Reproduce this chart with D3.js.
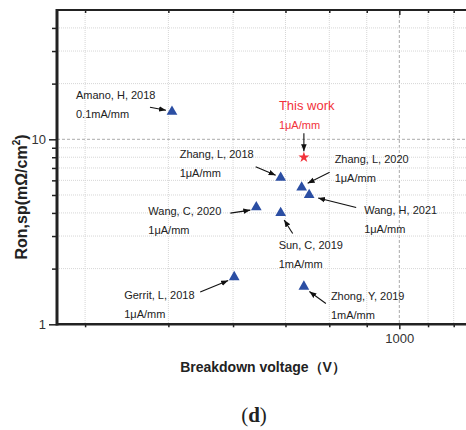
<!DOCTYPE html>
<html>
<head>
<meta charset="utf-8">
<script src="https://cdn.jsdelivr.net/npm/d3@7"></script>
<style>
  body { margin: 0; background: #fff; }
  text { font-family: "Liberation Sans", Arial, sans-serif; }
</style>
</head>
<body>
<svg id="chart"></svg>
<script>
// reference devices: breakdown voltage (V) vs Ron,sp (mOhm.cm2)
const refNames = ['Amano, H, 2018', 'Zhang, L, 2018', 'Zhang, L, 2020', 'Wang, H, 2021',
    'Wang, C, 2020', 'Sun, C, 2019', 'Gerrit, L, 2018', 'Zhong, Y, 2019'];
const refLeakage = ['0.1mA/mm', '1\u03bcA/mm', '1\u03bcA/mm', '1\u03bcA/mm',
    '1\u03bcA/mm', '1mA/mm', '1\u03bcA/mm', '1mA/mm'];
const refBV = [505, 690, 735, 752, 642, 690, 602, 740];
const refRon = [14.1, 6.2, 5.5, 5.0, 4.3, 4.0, 1.8, 1.6];

const workName = ['This work'];
const workLeakage = ['1\u03bcA/mm'];
const workBV = [740];
const workRon = [8.0];

const xTicks = [400, 500, 600, 700, 800, 900, 1000, 1100, 1200];
const xMajor = [1000];
const yMajor = [1, 10];
const yMinor = [2, 3, 4, 5, 6, 7, 8, 9, 20, 30, 40];

// label / arrow placement, px relative to the marker: [labelX, labelY, tailX, tailY, headX, headY]
const refCallouts = [
    [-96, -13, -22, -4.5, -6, -1.5],
    [-101, -20, -25, -11, -5, -2.5],
    [33, -24, 28, -15, 6, -4],
    [55, 19, 47, 12.5, 9, 3],
    [-108, 8, -26, 6, -6, 3],
    [-2, 36, 12, 20.5, 3.5, 7],
    [-110, 22, -34, 15, -6, 3.5],
    [27, 13, 22, 17, 5.5, 5]
];
const workCallout = [-25, -47, 0, -24, 0, -6];

const width = 466, height = 430;
const margin = {top: 10, right: 0, bottom: 106, left: 57};
const svg = d3.select('#chart').attr('width', width).attr('height', height);

const x = d3.scalePow().exponent(-0.25)
    .domain([372, 1252])
    .range([margin.left, width - margin.right]);
const y = d3.scaleLog()
    .domain([1, 50])
    .range([height - margin.bottom + 0.3, margin.top]);

const x0 = margin.left, x1 = width - margin.right;
const y0 = y.range()[0], y1 = margin.top;

// grid
const grid = svg.append('g');
grid.selectAll('.gx')
    .data(xTicks)
    .join('line')
    .attr('x1', d => x(d)).attr('x2', d => x(d))
    .attr('y1', y1).attr('y2', y0)
    .attr('stroke', d => xMajor.includes(d) ? '#aaa' : '#d6d6d6')
    .attr('stroke-dasharray', d => xMajor.includes(d) ? '3,2' : '1,1');
grid.selectAll('.gy')
    .data(yMinor.concat(yMajor.slice(1)))
    .join('line')
    .attr('x1', x0).attr('x2', x1)
    .attr('y1', d => y(d)).attr('y2', d => y(d))
    .attr('stroke', d => yMajor.includes(d) ? '#aaa' : '#d6d6d6')
    .attr('stroke-dasharray', d => yMajor.includes(d) ? '3,2' : '1,1');

// axes
const leftMinor = svg.append('g')
    .attr('transform', `translate(${x0},0)`)
    .call(d3.axisLeft(y).tickValues(yMinor).tickSize(5).tickFormat(''));
const leftMajor = svg.append('g')
    .attr('transform', `translate(${x0},0)`)
    .call(d3.axisLeft(y).tickValues(yMajor).tickSize(8).tickPadding(3).tickFormat(d3.format('d')));
const bottomAxis = svg.append('g')
    .attr('transform', `translate(0,${y0})`)
    .call(d3.axisBottom(x).tickValues(xTicks).tickSize(3).tickPadding(6)
        .tickFormat(d => xMajor.includes(d) ? d : ''));
bottomAxis.selectAll('.tick line').filter(d => xMajor.includes(d)).attr('y2', 5);
const topAxis = svg.append('g')
    .attr('transform', `translate(0,${y1})`)
    .call(d3.axisBottom(x).tickValues(xTicks).tickSize(3).tickFormat(''));
topAxis.selectAll('.tick line').filter(d => xMajor.includes(d)).attr('y2', 5);

[leftMinor, leftMajor, bottomAxis, topAxis].forEach(g => {
    g.select('.domain').remove();
    g.selectAll('.tick line').attr('stroke', '#222').attr('stroke-width', 1.5);
    g.selectAll('.tick text').attr('fill', '#333').style('font-size', '13px');
});

svg.append('line').attr('x1', x0).attr('x2', x1).attr('y1', y1).attr('y2', y1)
    .attr('stroke', '#222').attr('stroke-width', 2);
svg.append('line').attr('x1', x0).attr('x2', x1).attr('y1', y0).attr('y2', y0)
    .attr('stroke', '#222').attr('stroke-width', 2.5);
svg.append('line').attr('x1', x0).attr('x2', x0).attr('y1', y1 - 1).attr('y2', y0 + 1.2)
    .attr('stroke', '#222').attr('stroke-width', 3);

// axis titles
svg.append('text')
    .attr('transform', `translate(27,197) rotate(-90)`)
    .attr('text-anchor', 'middle')
    .attr('font-weight', 'bold')
    .style('font-size', '16px')
    .attr('fill', '#222')
    .call(t => {
        t.append('tspan').text('Ron,sp(m\u03a9/cm');
        t.append('tspan').text('2').attr('dy', -7).style('font-size', '10px');
        t.append('tspan').text(')').attr('dy', 7);
    });

svg.append('text')
    .attr('x', 263)
    .attr('y', 372)
    .attr('text-anchor', 'middle')
    .attr('font-weight', 'bold')
    .style('font-size', '14px')
    .attr('fill', '#222')
    .text('Breakdown voltage\uff08V\uff09');

svg.append('text')
    .attr('x', 254)
    .attr('y', 422)
    .attr('text-anchor', 'middle')
    .style('font-family', '"Liberation Serif", "DejaVu Serif", serif')
    .style('font-size', '21px')
    .attr('fill', '#222')
    .call(t => {
        t.append('tspan').text('(');
        t.append('tspan').text('d').attr('font-weight', 'bold');
        t.append('tspan').text(')');
    });

// arrow head
svg.append('defs').append('marker')
    .attr('id', 'head')
    .attr('viewBox', '0 0 10 10')
    .attr('refX', 10).attr('refY', 5)
    .attr('markerWidth', 7).attr('markerHeight', 7)
    .attr('markerUnits', 'userSpaceOnUse')
    .attr('orient', 'auto')
    .append('path')
    .attr('d', 'M0,1 L10,5 L0,9 Z')
    .attr('fill', '#111');

const refs = refNames.map((name, i) => ({
    name, leak: refLeakage[i], bv: refBV[i], ron: refRon[i], c: refCallouts[i], color: '#222'
}));
const work = workName.map((name, i) => ({
    name, leak: workLeakage[i], bv: workBV[i], ron: workRon[i], c: workCallout, color: '#f2323a'
}));

const callouts = svg.append('g');
refs.concat(work).forEach(d => {
    const px = x(d.bv), py = y(d.ron);
    callouts.append('line')
        .attr('x1', px + d.c[2]).attr('y1', py + d.c[3])
        .attr('x2', px + d.c[4]).attr('y2', py + d.c[5])
        .attr('stroke', '#111').attr('stroke-width', 1.1)
        .attr('marker-end', 'url(#head)');
    const isWork = d.color !== '#222';
    callouts.append('text')
        .attr('x', px + d.c[0]).attr('y', py + d.c[1])
        .attr('fill', d.color)
        .style('font-size', isWork ? '13px' : '11px')
        .text(d.name);
    callouts.append('text')
        .attr('x', px + d.c[0]).attr('y', py + d.c[1] + 19)
        .attr('fill', d.color)
        .style('font-size', '11px')
        .text(d.leak);
});

svg.append('g')
    .selectAll('path')
    .data(refs)
    .join('path')
    .attr('transform', d => `translate(${x(d.bv)},${y(d.ron)})`)
    .attr('d', d3.symbol(d3.symbolTriangle, 50))
    .attr('fill', '#2b4ea3');

svg.append('g')
    .selectAll('path')
    .data(work)
    .join('path')
    .attr('transform', d => `translate(${x(d.bv)},${y(d.ron)})`)
    .attr('d', d3.symbol(d3.symbolStar, 38))
    .attr('fill', '#f2323a');
</script>
</body>
</html>
